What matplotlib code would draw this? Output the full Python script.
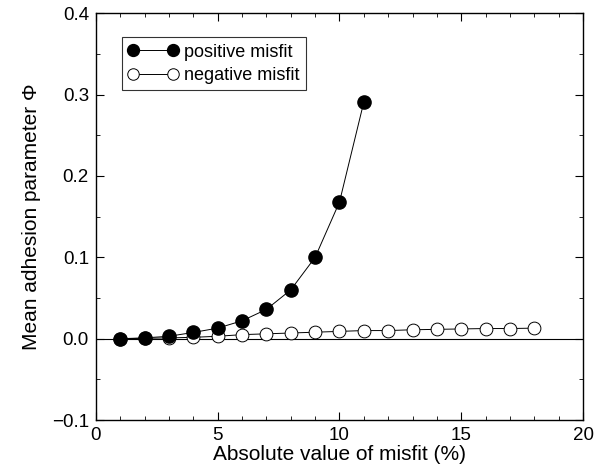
import matplotlib
matplotlib.use("Agg")
import matplotlib.pyplot as plt
from matplotlib.ticker import MultipleLocator, FuncFormatter

plt.rcParams['font.family'] = ['Liberation Sans', 'DejaVu Sans']

pos_x = [1, 2, 3, 4, 5, 6, 7, 8, 9, 10, 11]
pos_y = [0.0, 0.001, 0.003, 0.0077, 0.013, 0.022, 0.036, 0.060, 0.100, 0.168, 0.291]
neg_x = [1, 2, 3, 4, 5, 6, 7, 8, 9, 10, 11, 12, 13, 14, 15, 16, 17, 18]
neg_y = [0.0, 0.0005, 0.001, 0.0017, 0.003, 0.005, 0.006, 0.007, 0.008, 0.009,
         0.010, 0.010, 0.011, 0.0115, 0.012, 0.0125, 0.0125, 0.013]

fig = plt.figure(figsize=(6.03, 4.72), dpi=100)
ax = fig.add_axes([0.159, 0.110, 0.808, 0.862])

ax.axhline(0, color='black', lw=0.8, zorder=1)
ax.plot(neg_x, neg_y, '-o', color='black', mfc='white', mec='black', ms=9.2, mew=0.7, lw=0.7,
        label='negative misfit', zorder=2)
ax.plot(pos_x, pos_y, '-o', color='black', mfc='black', mec='black', ms=9.5, lw=0.7,
        label='positive misfit', zorder=3)

ax.set_xlim(0, 20)
ax.set_ylim(-0.1, 0.4)
ax.xaxis.set_major_locator(MultipleLocator(5))
ax.xaxis.set_minor_locator(MultipleLocator(1))
ax.yaxis.set_major_locator(MultipleLocator(0.1))
ax.yaxis.set_minor_locator(MultipleLocator(0.05))
ax.yaxis.set_major_formatter(FuncFormatter(lambda v, p: f"{v:.1f}".replace('-', '\u2212')))
ax.tick_params(which='both', direction='in', top=True, right=True, labelsize=13.5)
ax.tick_params(which='major', length=6, pad=5)
ax.tick_params(which='minor', length=3)
for s in ax.spines.values():
    s.set_linewidth(1.0)

ax.set_xlabel('Absolute value of misfit (%)', fontsize=15, labelpad=1)
ax.set_ylabel('Mean adhesion parameter Φ', fontsize=15, labelpad=8)

h, l = ax.get_legend_handles_labels()
leg = ax.legend(h[::-1], l[::-1], loc='upper left', bbox_to_anchor=(0.053, 0.941), numpoints=2,
                fontsize=13, frameon=True, fancybox=False, edgecolor='black',
                handlelength=2.8, handletextpad=0.3, borderpad=0.35, labelspacing=0.35,
                borderaxespad=0, markerscale=0.9)
leg.get_frame().set_linewidth(0.8)

fig.savefig('out.png', dpi=100)
